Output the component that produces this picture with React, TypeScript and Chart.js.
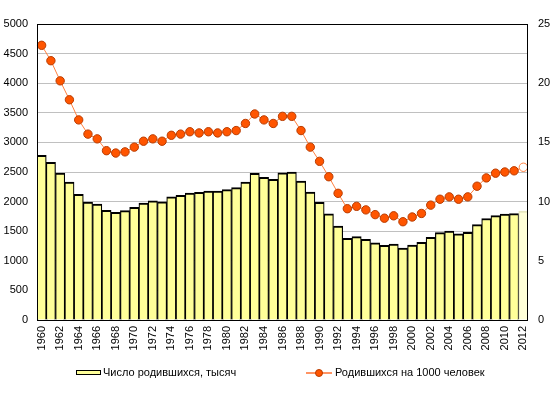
import React, { useEffect, useRef } from "react";
import { Chart, registerables } from "chart.js";

Chart.register(...registerables);

const years: number[] = [
  1960, 1961, 1962, 1963, 1964, 1965, 1966, 1967, 1968, 1969,
  1970, 1971, 1972, 1973, 1974, 1975, 1976, 1977, 1978, 1979,
  1980, 1981, 1982, 1983, 1984, 1985, 1986, 1987, 1988, 1989,
  1990, 1991, 1992, 1993, 1994, 1995, 1996, 1997, 1998, 1999,
  2000, 2001, 2002, 2003, 2004, 2005, 2006, 2007, 2008, 2009,
  2010, 2011, 2012,
];

const births: number[] = [
  2782, 2663, 2482, 2331, 2121, 1991, 1957, 1851, 1817, 1848,
  1904, 1974, 2015, 1995, 2080, 2106, 2146, 2157, 2179, 2179,
  2203, 2237, 2328, 2478, 2409, 2375, 2486, 2500, 2348, 2161,
  1989, 1795, 1588, 1379, 1408, 1364, 1305, 1260, 1283, 1215,
  1267, 1312, 1397, 1477, 1502, 1457, 1480, 1610, 1714, 1762,
  1789, 1797, 1841,
];

const rate: number[] = [
  23.2, 21.9, 20.2, 18.6, 16.9, 15.7, 15.3, 14.3, 14.1, 14.2,
  14.6, 15.1, 15.3, 15.1, 15.6, 15.7, 15.9, 15.8, 15.9, 15.8,
  15.9, 16.0, 16.6, 17.4, 16.9, 16.6, 17.2, 17.2, 16.0, 14.6,
  13.4, 12.1, 10.7, 9.4, 9.6, 9.3, 8.9, 8.6, 8.8, 8.3,
  8.7, 9.0, 9.7, 10.2, 10.4, 10.2, 10.4, 11.3, 12.0, 12.4,
  12.5, 12.6, 12.9,
];

const barLabel = "Число родившихся, тысяч";
const lineLabel = "Родившихся на 1000 человек";

const FONT = "'Liberation Sans', Arial, sans-serif";

export default function App() {
  const ref = useRef<HTMLCanvasElement | null>(null);

  useEffect(() => {
    document.body.style.margin = "0";
    const canvas = ref.current;
    if (!canvas) return;
    const n = years.length;
    const barFill = births.map((_, i) => (i === n - 1 ? "#FFFFD8" : "#FFFF99"));
    const barBorder = births.map((_, i) => (i === n - 1 ? "#E8E8C0" : "#000000"));
    const ptFill = rate.map((_, i) => (i === n - 1 ? "#FFFFFF" : "#FF5500"));
    const ptBorder = rate.map((_, i) => (i === n - 1 ? "#FF8040" : "#B83C00"));

    const framePlugin = {
      id: "frame",
      afterDraw(chart: any) {
        const { ctx, chartArea: a } = chart;
        ctx.save();
        ctx.strokeStyle = "#000";
        ctx.lineWidth = 1;
        ctx.strokeRect(Math.round(a.left) + 0.5, Math.round(a.top) + 0.5, Math.round(a.right - a.left) - 1, Math.round(a.bottom - a.top));
        // legend
        ctx.font = `11px ${FONT}`;
        ctx.textBaseline = "middle";
        const ly = 373;
        ctx.fillStyle = "#FFFF99";
        ctx.fillRect(76, 370, 25, 5);
        ctx.strokeStyle = "#000";
        ctx.strokeRect(76.5, 370.5, 24, 4);
        ctx.fillStyle = "#000";
        ctx.fillText(barLabel, 103, ly);
        ctx.strokeStyle = "#FF7030";
        ctx.lineWidth = 1.5;
        ctx.beginPath();
        ctx.moveTo(306, ly);
        ctx.lineTo(332, ly);
        ctx.stroke();
        ctx.beginPath();
        ctx.arc(319, ly, 3.5, 0, Math.PI * 2);
        ctx.fillStyle = "#FF5500";
        ctx.fill();
        ctx.strokeStyle = "#B83C00";
        ctx.lineWidth = 1;
        ctx.stroke();
        ctx.fillStyle = "#000";
        ctx.fillText(lineLabel, 335, ly);
        ctx.restore();
      },
    };

    const chart = new Chart(canvas, {
      data: {
        labels: years.map(String),
        datasets: [
          {
            type: "line",
            label: lineLabel,
            data: rate,
            yAxisID: "y1",
            borderColor: "#FF8040",
            borderWidth: 1,
            pointRadius: 4.2,
            pointBorderWidth: 1,
            pointBackgroundColor: ptFill,
            pointBorderColor: ptBorder,
            order: 0,
          },
          {
            type: "bar",
            label: barLabel,
            data: births,
            yAxisID: "y",
            backgroundColor: barFill,
            borderColor: barBorder,
            borderWidth: { top: 2, left: 1.2, right: 1.2, bottom: 0 },
            barPercentage: 1,
            categoryPercentage: 1,
            order: 1,
          },
        ],
      } as any,
      options: {
        responsive: false,
        animation: false,
        layout: { padding: { top: 24, bottom: 41, left: 0, right: 0 } },
        plugins: {
          legend: { display: false },
          tooltip: { enabled: false },
        },
        scales: {
          x: {
            grid: { display: false, drawTicks: false },
            border: { display: false },
            ticks: {
              autoSkip: false,
              minRotation: 90,
              maxRotation: 90,
              padding: 6,
              color: "#000",
              font: { family: FONT, size: 11 },
              callback: (_v: any, i: number) => (i % 2 === 0 ? String(years[i]) : ""),
            },
            afterFit: (s: any) => {
              s.height = 32;
            },
          },
          y: {
            position: "left",
            min: 0,
            max: 5000,
            grid: { color: "#C0C0C0", drawTicks: false, lineWidth: 1 },
            border: { display: false },
            ticks: {
              stepSize: 500,
              padding: 9,
              color: "#000",
              font: { family: FONT, size: 11 },
              callback: (v: any) => String(v),
            },
            afterFit: (s: any) => {
              s.width = 37;
            },
          },
          y1: {
            position: "right",
            min: 0,
            max: 25,
            grid: { display: false, drawTicks: false },
            border: { display: false },
            ticks: {
              stepSize: 5,
              padding: 10,
              color: "#000",
              font: { family: FONT, size: 11 },
              callback: (v: any) => String(v),
            },
            afterFit: (s: any) => {
              s.width = 26;
            },
          },
        },
      },
      plugins: [framePlugin],
    });
    return () => chart.destroy();
  }, []);

  return (
    <div style={{ position: "absolute", left: 0, top: 0, width: 554, height: 393 }}>
      <canvas ref={ref} width={554} height={393} style={{ display: "block" }} />
    </div>
  );
}
